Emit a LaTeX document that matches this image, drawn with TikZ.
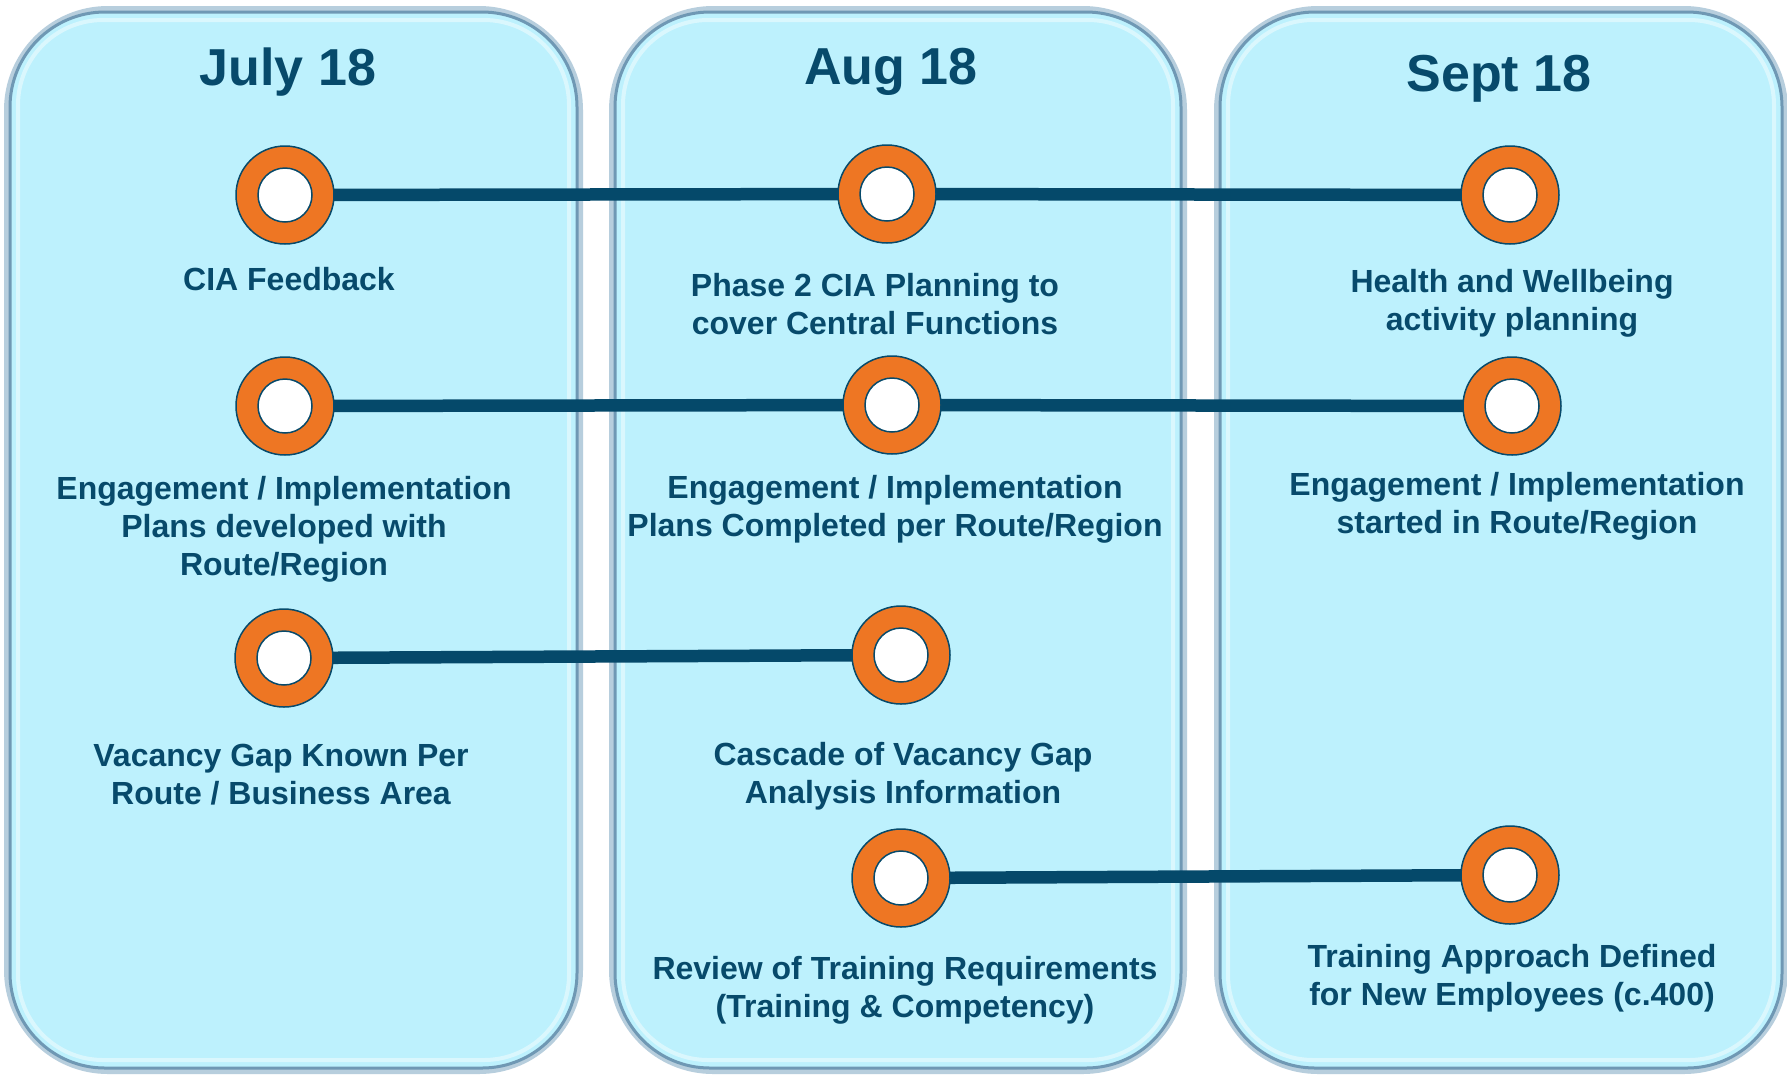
\documentclass[tikz,border=0pt]{standalone}
\usepackage{fontspec}
\setmainfont{Liberation Sans}
\begin{document}
\begin{tikzpicture}[x=1pt,y=-1pt,
  panel/.style={rounded corners=95pt, fill=panelfill, draw=paneledge, line width=3pt},
  glow/.style={rounded corners=100pt, draw=glowc, line width=#1},
  title/.style={text=txt, font=\fontsize{52}{60}\selectfont\bfseries},
  lbl/.style={text=txt, font=\fontsize{32}{38}\selectfont\bfseries, align=center},
  ring/.style={circle, fill=ringo, draw=txt, line width=1.5pt, minimum size=98pt, inner sep=0pt},
  hole/.style={circle, fill=white, draw=txt, line width=1.5pt, minimum size=54pt, inner sep=0pt},
  link/.style={draw=linec, line width=12.5pt}]
\definecolor{panelfill}{HTML}{BDF1FD}
\definecolor{paneledge}{HTML}{6F98B4}
\definecolor{glowc}{HTML}{B7CEDD}
\definecolor{txt}{HTML}{074A6B}
\definecolor{ringo}{HTML}{EE7623}
\definecolor{linec}{HTML}{05496A}
\useasboundingbox (0,0) rectangle (1787,1077);
\fill[white] (0,0) rectangle (1787,1077);
% panels
\foreach \xa/\xb in {10/577, 615/1181, 1220/1782}{
  \draw[glow=8pt] (\xa-2,10) rectangle (\xb+2,1070);
  \draw[panel] (\xa,12) rectangle (\xb,1068);
  \draw[rounded corners=85pt, draw=white, opacity=0.45, line width=4pt] (\xa+8,20) rectangle (\xb-8,1060);
}
% titles
\node[title] (t1) at (288,72) {July 18};
\node[title] (t2) at (891,72) {Aug 18};
\node[title] (t3) at (1499,79) {Sept 18};
% milestones
\foreach \n/\x/\y in {a1/285/195, a2/887/194, a3/1510/195,
                      b1/285/406, b2/892/405, b3/1512/406,
                      c1/284/658, c2/901/655,
                      d2/901/878, d3/1510/875}{
  \coordinate (\n) at (\x,\y);
}
\draw[link] (a1) -- (a2) -- (a3);
\draw[link] (b1) -- (b2) -- (b3);
\draw[link] (c1) -- (c2);
\draw[link] (d2) -- (d3);
\foreach \n in {a1,a2,a3,b1,b2,b3,c1,c2,d2,d3}{
  \node[ring] (r\n) at (\n) {};
  \node[hole] (h\n) at (\n) {};
}
% labels
\node[lbl] (la1) at (289,279) {CIA Feedback};
\node[lbl] (la2) at (875,304) {Phase 2 CIA Planning to\\cover Central Functions};
\node[lbl] (la3) at (1512,303) {Health and Wellbeing\\activity planning};
\node[lbl] (lb1) at (284,529) {Engagement / Implementation\\Plans developed with\\Route/Region};
\node[lbl] (lb2) at (895,509) {Engagement / Implementation\\Plans Completed per Route/Region};
\node[lbl] (lb3) at (1517,506) {Engagement / Implementation\\started in Route/Region};
\node[lbl] (lc1) at (281,775) {Vacancy Gap Known Per\\Route / Business Area};
\node[lbl] (lc2) at (903,776) {Cascade of Vacancy Gap\\Analysis Information};
\node[lbl] (ld2) at (905,990) {Review of Training Requirements\\(Training \& Competency)};
\node[lbl] (ld3) at (1512,978) {Training Approach Defined\\for New Employees (c.400)};
\end{tikzpicture}
\end{document}
